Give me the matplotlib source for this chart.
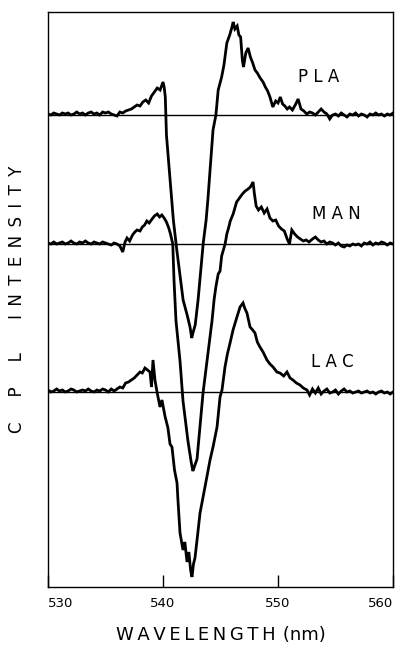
import matplotlib
matplotlib.use("Agg")
import matplotlib.pyplot as plt

# CPL spectra (arbitrary units, upward positive, relative to each trace's zero line)
pla_wl = [530.0, 530.25, 530.5, 530.75, 531.0, 531.25, 531.5, 531.75, 532.0, 532.25,
          532.5, 532.75, 533.0, 533.25, 533.5, 533.75, 534.0, 534.25, 534.5, 534.75,
          535.0, 535.25, 535.5, 535.75, 536.0, 536.25, 536.5, 536.75, 537.0, 537.25,
          537.5, 537.75, 538.0, 538.25, 538.5, 538.75, 539.0, 539.25, 539.5, 539.75,
          540.0, 540.1, 540.2, 540.3, 540.9, 541.2, 541.75, 542.1, 542.35, 542.5,
          542.6, 542.8, 543.05, 543.5, 543.75, 543.9, 544.35, 544.6, 544.8, 545.1,
          545.3, 545.55, 545.8, 546.0, 546.1, 546.25, 546.45, 546.6, 546.75, 546.9,
          547.0, 547.2, 547.4, 547.6, 547.8, 548.0, 548.2, 548.45, 548.7, 548.9,
          549.1, 549.3, 549.55, 549.8, 550.0, 550.2, 550.4, 550.6, 550.8, 551.0,
          551.25, 551.5, 551.75, 552.0, 552.25, 552.5, 552.75, 553.0, 553.25, 553.5,
          553.75, 554.0, 554.25, 554.5, 554.75, 555.0, 555.25, 555.5, 555.75, 556.0,
          556.25, 556.5, 556.75, 557.0, 557.25, 557.5, 557.75, 558.0, 558.25, 558.5,
          558.75, 559.0, 559.25, 559.5, 559.75, 560.0]
pla_val = [1, 0, 2, 1, 0, 2, 1, 2, 0, 1,
           3, 1, 2, 0, 2, 3, 1, 2, 0, 3,
           2, 3, 1, 0, -1, 3, 2, 4, 5, 6,
           8, 10, 9, 13, 15, 12, 19, 23, 27, 25,
           33, 28, 18, -20, -105, -135, -185, -200, -212, -223,
           -218, -210, -185, -128, -105, -85, -15, 0, 25, 38,
           50, 72, 80, 88, 93, 86, 89, 80, 78, 55,
           48, 62, 67, 58, 52, 45, 42, 37, 33, 28,
           24, 18, 8, 14, 12, 18, 11, 9, 6, 8,
           5, 10, 16, 6, 4, 1, 3, 2, 0, 3,
           6, 3, 1, -4, 0, 1, -1, 2, 0, -2,
           1, 0, 2, -1, 1, 0, -2, 1, 0, 2,
           0, 1, -1, 1, 0, 2]

man_wl = [530.0, 530.25, 530.5, 530.75, 531.0, 531.25, 531.5, 531.75, 532.0, 532.25,
          532.5, 532.75, 533.0, 533.25, 533.5, 533.75, 534.0, 534.25, 534.5, 534.75,
          535.0, 535.25, 535.5, 535.75, 536.0, 536.25, 536.5, 536.7, 536.87, 537.1,
          537.35, 537.55, 537.75, 538.0, 538.2, 538.4, 538.6, 538.8, 539.05, 539.25,
          539.5, 539.7, 539.9, 540.1, 540.3, 540.5, 540.65, 540.85, 540.96, 541.13,
          541.48, 541.74, 542.17, 542.45, 542.6, 542.75, 542.96, 543.48, 544.26, 544.45,
          544.61, 544.8, 544.96, 545.1, 545.25, 545.4, 545.55, 545.7, 545.85, 546.1,
          546.4, 546.65, 546.9, 547.15, 547.4, 547.6, 547.83, 547.95, 548.1, 548.3,
          548.55, 548.8, 549.05, 549.3, 549.55, 549.8, 550.05, 550.3, 550.55, 550.8,
          551.0, 551.2, 551.45, 551.7, 551.95, 552.2, 552.45, 552.7, 553.0, 553.25,
          553.5, 553.75, 554.0, 554.25, 554.5, 554.75, 555.0, 555.25, 555.5, 555.75,
          556.0, 556.25, 556.5, 556.75, 557.0, 557.25, 557.5, 557.75, 558.0, 558.25,
          558.5, 558.75, 559.0, 559.25, 559.5, 559.75, 560.0]
man_val = [1, 0, 2, 0, 1, 2, 0, 1, 3, 1,
           0, 2, 1, 3, 1, 0, 2, 1, 0, 2,
           1, 0, -1, 1, 0, -2, -8, 2, 6, 3,
           9, 12, 14, 13, 17, 19, 23, 21, 25, 28,
           30, 27, 29, 26, 22, 16, 10, 0, -37, -77,
           -117, -157, -197, -218, -227, -222, -215, -149, -77, -55,
           -42, -30, -27, -12, -6, 0, 10, 16, 23, 30,
           42, 46, 50, 53, 55, 57, 62, 50, 38, 34,
           37, 31, 35, 26, 23, 24, 18, 15, 13, 5,
           0, 14, 10, 7, 5, 3, 4, 2, 5, 7,
           4, 2, 3, 0, 2, 1, -1, 1, -2, -3,
           -1, -2, 0, -1, 0, -2, 1, 0, 2, -1,
           1, 0, 2, 1, -1, 1, 0]

lac_wl = [530.0, 530.25, 530.5, 530.75, 531.0, 531.25, 531.5, 531.75, 532.0, 532.25,
          532.5, 532.75, 533.0, 533.25, 533.5, 533.75, 534.0, 534.25, 534.5, 534.75,
          535.0, 535.25, 535.5, 535.75, 536.0, 536.25, 536.5, 536.75, 537.0, 537.25,
          537.5, 537.75, 538.0, 538.2, 538.43, 538.65, 538.87, 539.0, 539.13, 539.3,
          539.48, 539.74, 539.91, 540.17, 540.43, 540.61, 540.78, 541.0, 541.22, 541.3,
          541.48, 541.74, 541.9, 542.09, 542.25, 542.4, 542.52, 542.65, 542.78, 542.96,
          543.22, 543.65, 544.09, 544.35, 544.7, 544.96, 545.13, 545.39, 545.6, 545.83,
          546.09, 546.43, 546.7, 546.96, 547.1, 547.3, 547.57, 547.8, 548.0, 548.2,
          548.43, 548.7, 549.04, 549.3, 549.57, 549.9, 550.17, 550.5, 550.78, 551.05,
          551.3, 551.6, 551.91, 552.2, 552.52, 552.75, 553.0, 553.25, 553.5, 553.75,
          554.0, 554.25, 554.5, 554.75, 555.0, 555.25, 555.5, 555.75, 556.0, 556.25,
          556.5, 556.75, 557.0, 557.25, 557.5, 557.75, 558.0, 558.25, 558.5, 558.75,
          559.0, 559.25, 559.5, 559.75, 560.0]
lac_val = [2, 0, 1, 3, 1, 2, 0, 1, 3, 2,
           0, 1, 2, 1, 3, 1, 0, 2, 1, 3,
           2, 0, 3, 1, 3, 5, 4, 9, 10, 12,
           14, 17, 20, 19, 24, 22, 20, 5, 32, 12,
           0, -15, -8, -24, -36, -52, -55, -78, -91, -108,
           -141, -158, -150, -170, -160, -178, -185, -172, -166, -148,
           -121, -95, -68, -55, -35, -5, 2, 25, 38, 49,
           62, 75, 85, 89, 84, 79, 65, 62, 59, 50,
           45, 40, 32, 28, 25, 20, 19, 16, 20, 14,
           12, 9, 7, 4, 2, -3, 3, -1, 4, -2,
           1, 3, -1, 0, 2, -2, 1, 3, 0, 1,
           -1, 0, 1, -1, 0, 1, -1, 0, -2, 0,
           1, -1, 0, -2, 0]

trace_names = ["PLA", "MAN", "LAC"]
trace_offsets = [472, 343, 195]
label_pos = [(553.5, 510), (555.1, 373), (554.7, 225)]
xticks = [530, 540, 550, 560]

fig = plt.figure(figsize=(4.08, 6.5), dpi=100)
ax = fig.add_axes([48 / 408, 63 / 650, 345 / 408, 575 / 650])

traces = [(pla_wl, pla_val), (man_wl, man_val), (lac_wl, lac_val)]
for (wl, val), off, name, (lx, ly) in zip(traces, trace_offsets, trace_names, label_pos):
    ax.axhline(off, color="black", linewidth=1.0, zorder=1)
    ax.plot(wl, [v + off for v in val], color="black", linewidth=2.0,
            solid_joinstyle="miter", zorder=2)
    ax.text(lx, ly, " ".join(name), ha="center", va="center", fontsize=12,
            family="DejaVu Sans")

ax.set_xlim(530, 560)
ax.set_ylim(0, 575)
ax.set_xticks(xticks)
ax.set_yticks([])
ax.tick_params(axis="x", direction="in", length=9, width=1.0, pad=7,
               labelsize=9.5)
# end labels sit inside the frame like the original
labels = ax.get_xticklabels()
labels[0].set_horizontalalignment("left")
labels[-1].set_horizontalalignment("right")
for sp in ax.spines.values():
    sp.set_linewidth(1.0)

ax.set_xlabel("\u2009".join("WAVELENGTH") + "\u2009\u2009(nm)", fontsize=13,
              labelpad=12)
ax.set_ylabel("C\u2003\u2002P\u2003\u2002L\u2003\u2003"
              + "\u2002".join("INTENSITY"), fontsize=12, labelpad=16)

fig.savefig("out.png", dpi=100)
